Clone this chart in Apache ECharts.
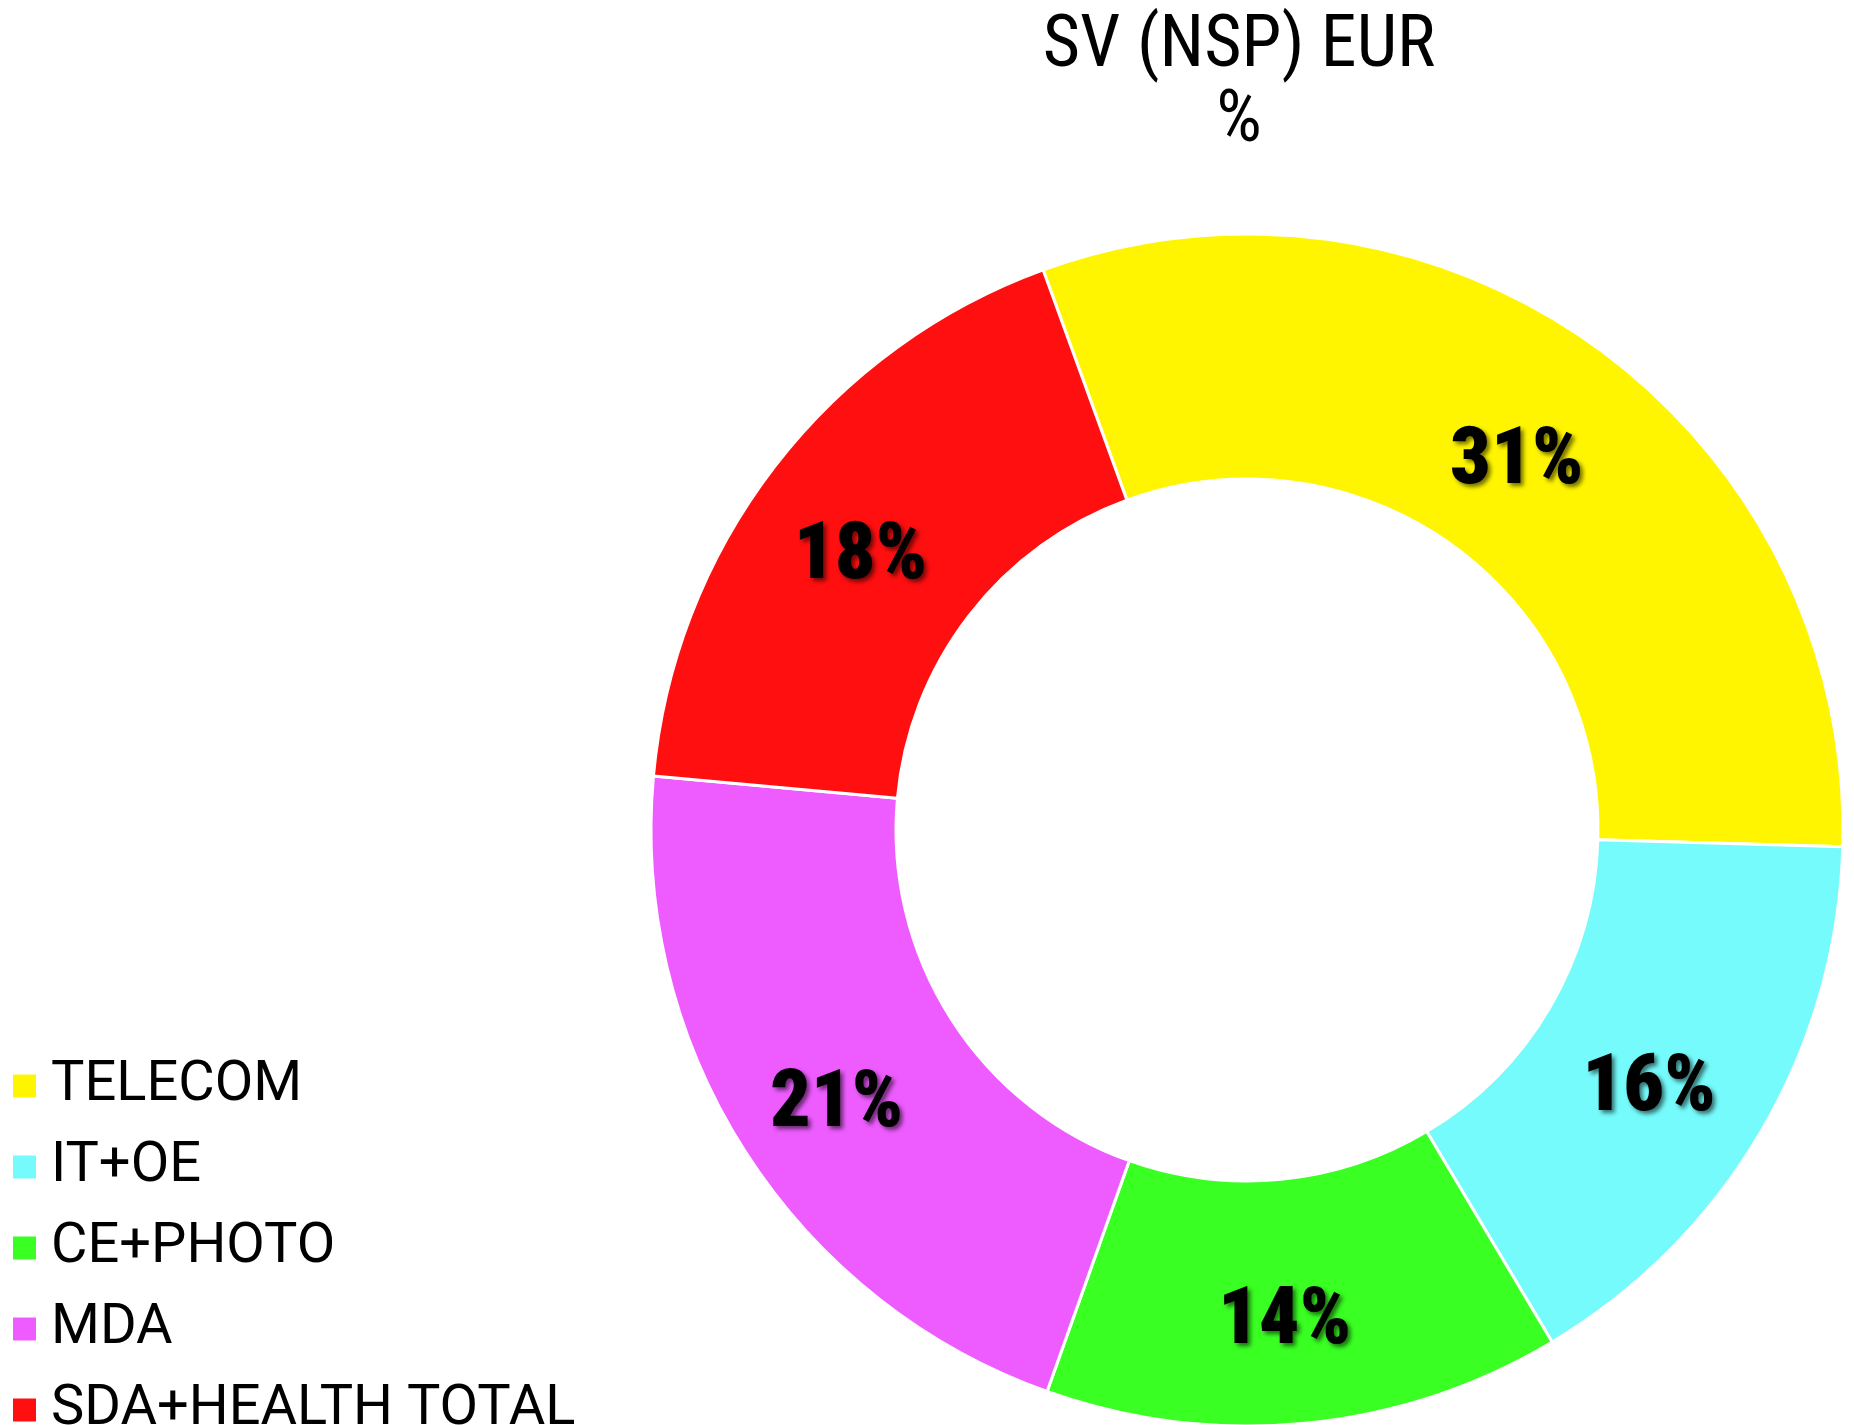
<!DOCTYPE html>
<html>
<head>
<meta charset="utf-8">
<script src="https://cdn.jsdelivr.net/npm/echarts@6/dist/echarts.min.js"></script>
<style>
  html, body { margin: 0; padding: 0; background: #fff; }
  #main { width: 1854px; height: 1425px; }
</style>
</head>
<body>
<div id="main"></div>
<script>
// segment names, shares (%) and colours, clockwise from top-left
const categories = ['TELECOM', 'IT+OE', 'CE+PHOTO', 'MDA', 'SDA+HEALTH TOTAL'];
const shares = [31, 16, 14, 21, 18];
const colors = ['#FFF500', '#75FBFB', '#39FF22', '#EE5CFF', '#FF0F10'];

const condensed = '"Roboto Condensed", Roboto, "Liberation Sans", sans-serif';
const regular = 'Roboto, "Liberation Sans", sans-serif';

let chart = echarts.init(document.getElementById('main'), null, { renderer: 'canvas' });

let pieData = categories.map((name, i) => ({
  name: name,
  value: shares[i],
  itemStyle: { color: colors[i] }
}));

let option = {
  backgroundColor: '#fff',
  animation: false,
  title: {
    text: 'SV (NSP) EUR\n%',
    left: 1234,
    top: 5,
    textAlign: 'center',
    textStyle: {
      fontFamily: condensed,
      fontSize: 72,
      fontWeight: 'normal',
      lineHeight: 75,
      color: '#000'
    }
  },
  legend: {
    orient: 'vertical',
    left: 6,
    top: 1053,
    height: 420,
    itemWidth: 25,
    itemHeight: 25,
    itemGap: 25,
    icon: 'rect',
    data: categories,
    textStyle: {
      fontFamily: regular,
      fontSize: 56,
      color: '#000',
      padding: [0, 0, 0, 9]
    }
  },
  series: [{
    type: 'pie',
    center: [1247, 830],
    radius: [351, 596],
    startAngle: 110,
    clockwise: true,
    avoidLabelOverlap: false,
    itemStyle: { borderColor: '#fff', borderWidth: 3 },
    label: {
      show: true,
      position: 'inside',
      formatter: '{c}%',
      offset: [-9, 19],
      fontFamily: condensed,
      fontWeight: 900,
      fontSize: 80,
      color: '#000',
      textShadowColor: 'rgba(0,0,0,0.55)',
      textShadowBlur: 4,
      textShadowOffsetX: 3,
      textShadowOffsetY: 3
    },
    labelLine: { show: false },
    emphasis: { disabled: true },
    data: pieData
  }]
};

chart.setOption(option);
</script>
</body>
</html>
